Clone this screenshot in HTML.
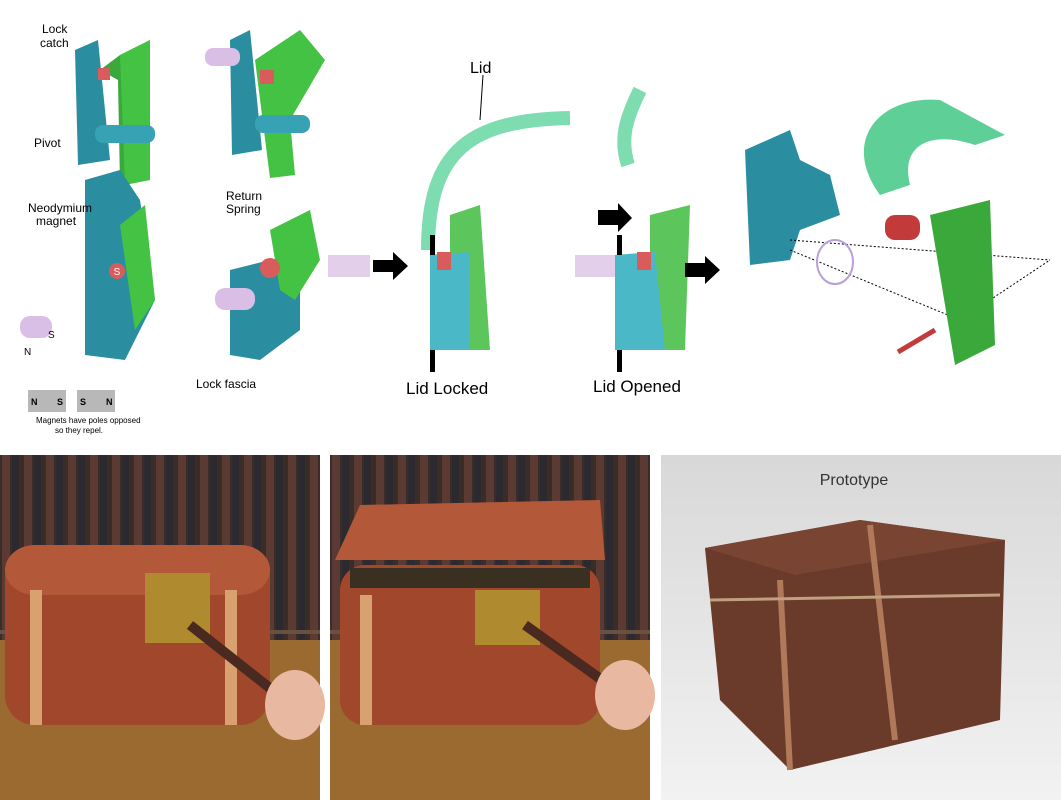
<!DOCTYPE html>
<html><head><meta charset="utf-8"><style>
html,body{margin:0;padding:0;background:#fff;}
svg{display:block;font-family:"Liberation Sans",sans-serif;}
</style></head><body>
<svg width="1061" height="800" viewBox="0 0 1061 800" xmlns="http://www.w3.org/2000/svg">
<rect width="1061" height="800" fill="#fff"/>
<defs>
<pattern id="books" width="22" height="200" patternUnits="userSpaceOnUse">
<rect width="22" height="200" fill="#3a2c26"/>
<rect x="2" y="0" width="8" height="200" fill="#5a3a32"/>
<rect x="12" y="0" width="7" height="200" fill="#2c2a30"/>
<rect x="0" y="30" width="22" height="4" fill="#6a5040"/>
</pattern>
<linearGradient id="pr" x1="0" y1="0" x2="0" y2="1"><stop offset="0" stop-color="#d8d8d8"/><stop offset="1" stop-color="#f2f2f2"/></linearGradient>
</defs>
<!-- Top-left part 1 -->
<g>
<polygon points="100,70 120,55 150,40 150,180 120,185 118,80" fill="#3aa83a"/>
<polygon points="120,55 150,40 150,180 125,185" fill="#44c244"/>
<polygon points="75,50 98,40 110,160 78,165" fill="#2a8ea0"/>
<rect x="95" y="125" width="60" height="18" fill="#36a2b4" rx="8"/>
<rect x="98" y="68" width="12" height="12" fill="#d95c5c"/>
<polygon points="230,40 250,30 262,150 232,155" fill="#2a8ea0"/>
<polygon points="255,60 300,30 325,60 290,120 295,175 270,178" fill="#44c244"/>
<rect x="255" y="115" width="55" height="18" fill="#36a2b4" rx="8"/>
<rect x="260" y="70" width="14" height="14" fill="#d95c5c"/>
<rect x="205" y="48" width="35" height="18" fill="#d9bfe6" rx="8"/>
<polygon points="85,180 120,170 140,200 155,300 125,360 85,355" fill="#2a8ea0"/>
<polygon points="120,225 145,205 155,300 135,330" fill="#44c244"/>
<circle cx="117" cy="271" r="8" fill="#d95c5c"/>
<text x="117" y="275" font-size="10" fill="#fff" text-anchor="middle">S</text>
<rect x="20" y="316" width="32" height="22" fill="#d9bfe6" rx="10"/>
<polygon points="230,270 270,260 300,290 300,330 260,360 230,355" fill="#2a8ea0"/>
<polygon points="270,230 310,210 320,260 295,300 280,290" fill="#44c244"/>
<circle cx="270" cy="268" r="10" fill="#d95c5c"/>
<rect x="215" y="288" width="40" height="22" fill="#d9bfe6" rx="10"/>
<rect x="28" y="390" width="38" height="22" fill="#b8b8b8"/>
<rect x="77" y="390" width="38" height="22" fill="#b8b8b8"/>
<g font-size="12" fill="#000">
<text x="42" y="33">Lock</text><text x="40" y="47">catch</text>
<text x="34" y="147">Pivot</text>
<text x="226" y="200">Return</text><text x="226" y="213">Spring</text>
<text x="28" y="212">Neodymium</text><text x="36" y="225">magnet</text>
<text x="48" y="338" font-size="10">S</text><text x="24" y="355" font-size="10">N</text>
<text x="196" y="388">Lock fascia</text>
<text x="31" y="405" font-size="9" font-weight="bold">N</text><text x="57" y="405" font-size="9" font-weight="bold">S</text>
<text x="80" y="405" font-size="9" font-weight="bold">S</text><text x="106" y="405" font-size="9" font-weight="bold">N</text>
<text x="36" y="423" font-size="8">Magnets have poles opposed</text>
<text x="55" y="433" font-size="8">so they repel.</text>
</g>
</g>
<!-- Middle -->
<rect x="328" y="255" width="42" height="22" fill="#e3cfea"/>
<polygon points="373,260 393,260 393,252 408,266 393,280 393,272 373,272" fill="#000"/>
<path d="M428,250 C428,150 470,120 570,118" stroke="#7ddcb0" stroke-width="14" fill="none"/>
<line x1="483" y1="75" x2="480" y2="120" stroke="#000"/>
<polygon points="450,215 480,205 490,350 450,350" fill="#5cc65c"/>
<polygon points="430,255 470,252 470,350 430,350" fill="#4bb8c8"/>
<rect x="437" y="252" width="14" height="18" fill="#d95c5c"/>
<rect x="430" y="235" width="5" height="20" fill="#000"/><rect x="430" y="350" width="5" height="22" fill="#000"/>
<text x="470" y="73" font-size="16">Lid</text>
<text x="406" y="394" font-size="17">Lid Locked</text>
<path d="M640,90 C625,120 620,140 628,165" stroke="#7ddcb0" stroke-width="14" fill="none"/>
<polygon points="598,210 618,210 618,203 632,218 618,232 618,225 598,225" fill="#000"/>
<rect x="575" y="255" width="40" height="22" fill="#e3cfea"/>
<polygon points="650,215 690,205 685,350 650,350" fill="#5cc65c"/>
<polygon points="615,255 655,252 665,350 615,350" fill="#4bb8c8"/>
<rect x="637" y="252" width="14" height="18" fill="#d95c5c"/>
<rect x="617" y="235" width="5" height="20" fill="#000"/><rect x="617" y="350" width="5" height="22" fill="#000"/>
<polygon points="685,263 705,263 705,256 720,270 705,284 705,277 685,277" fill="#000"/>
<text x="593" y="392" font-size="17">Lid Opened</text>
<!-- Exploded -->
<polygon points="745,150 790,130 800,160 830,175 840,215 800,230 790,260 750,265" fill="#2a8ea0"/>
<path d="M880,195 C840,140 880,95 940,100 L1005,135 L975,145 C930,130 900,145 910,185 Z" fill="#5fcf98"/>
<line x1="790" y1="240" x2="1050" y2="260" stroke="#000" stroke-dasharray="2,2"/>
<line x1="790" y1="250" x2="960" y2="320" stroke="#000" stroke-dasharray="2,2"/>
<line x1="960" y1="320" x2="1050" y2="260" stroke="#000" stroke-dasharray="2,2"/>
<ellipse cx="835" cy="262" rx="18" ry="22" fill="none" stroke="#b9a0d9" stroke-width="2"/>
<rect x="885" y="215" width="35" height="25" fill="#c23a3a" rx="10"/>
<polygon points="930,215 990,200 995,345 955,365" fill="#3aa83a"/>
<line x1="898" y1="352" x2="935" y2="330" stroke="#c23a3a" stroke-width="5"/>
<!-- Photos -->
<g>
<rect x="0" y="455" width="320" height="345" fill="url(#books)"/>
<rect x="0" y="640" width="320" height="160" fill="#9a6a30"/>
<rect x="5" y="545" width="265" height="180" rx="30" fill="#a0472c"/>
<rect x="5" y="545" width="265" height="50" rx="30" fill="#b4583a"/>
<rect x="145" y="573" width="65" height="70" fill="#b08a2e"/>
<rect x="30" y="590" width="12" height="135" fill="#d9a070"/>
<rect x="225" y="590" width="12" height="135" fill="#d9a070"/>
<path d="M190,625 L285,700" stroke="#4a2a20" stroke-width="10"/>
<ellipse cx="295" cy="705" rx="30" ry="35" fill="#e8b8a0"/>
</g>
<g>
<rect x="330" y="455" width="320" height="345" fill="url(#books)"/>
<rect x="330" y="640" width="320" height="160" fill="#9a6a30"/>
<polygon points="335,560 360,505 600,500 605,560" fill="#b4583a"/>
<rect x="340" y="565" width="260" height="160" rx="25" fill="#a0472c"/>
<rect x="350" y="568" width="240" height="20" fill="#3a3022"/>
<rect x="475" y="590" width="65" height="55" fill="#b08a2e"/>
<rect x="360" y="595" width="12" height="130" fill="#d9a070"/>
<path d="M525,625 L630,700" stroke="#4a2a20" stroke-width="10"/>
<ellipse cx="625" cy="695" rx="30" ry="35" fill="#e8b8a0"/>
</g>
<g>
<rect x="661" y="455" width="400" height="345" fill="url(#pr)"/>
<polygon points="705,548 860,520 1005,540 1000,720 790,770 720,700" fill="#6a3a2a"/>
<polygon points="705,548 860,520 1005,540 795,575" fill="#7a4432"/>
<line x1="780" y1="580" x2="790" y2="770" stroke="#b07a5a" stroke-width="6"/>
<line x1="870" y1="525" x2="895" y2="740" stroke="#b07a5a" stroke-width="6"/>
<line x1="710" y1="600" x2="1000" y2="595" stroke="#c0a080" stroke-width="3"/>
<text x="854" y="485" font-size="16" fill="#333" text-anchor="middle">Prototype</text>
</g>
</svg>
</body></html>
